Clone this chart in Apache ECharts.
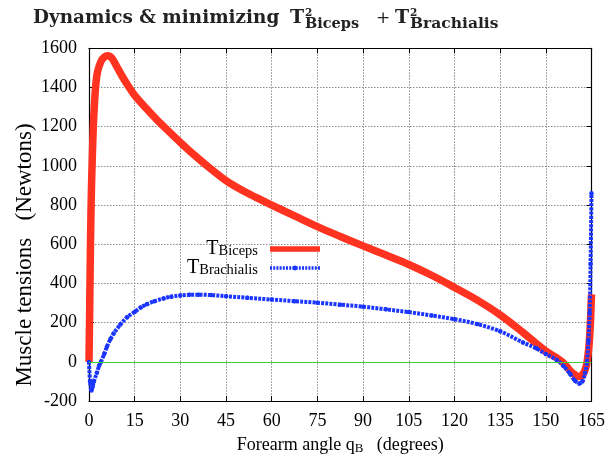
<!DOCTYPE html>
<html>
<head>
<meta charset="utf-8">
<script src="https://cdn.jsdelivr.net/npm/echarts@6/dist/echarts.min.js"></script>
<style>
html,body{margin:0;padding:0;background:#fff;}
#chart{width:616px;height:460px;}
</style>
</head>
<body>
<div id="chart"></div>
<script>
// Forearm angle (degrees) and tensions (Newtons)
const angBiceps = [0, 0.25, 0.5, 0.8, 1.1, 1.5, 2.1, 2.8, 4, 5, 6.2, 7.5, 9, 11, 13, 15, 19, 22, 25.6, 30, 35, 40, 45, 50, 55, 60, 67.5, 75, 82.5, 90, 97.5, 105, 112.5, 120, 127.5, 135, 142.5, 147, 150, 153.6, 155.8, 158, 159.5, 160.7, 161.8, 162.8, 163.5, 164, 164.4, 164.7, 165];
const tBiceps = [0, 300, 620, 880, 1050, 1230, 1390, 1480, 1535, 1555, 1562, 1550, 1510, 1455, 1405, 1360, 1290, 1240, 1185, 1120, 1050, 985, 925, 878, 838, 800, 745, 690, 640, 592, 545, 497, 442, 380, 315, 240, 150, 92, 55, 20, -5, -45, -65, -75, -70, -45, -5, 55, 130, 220, 345];
const angBrach = [0, 0.35, 0.8, 1.2, 1.6, 2.6, 3.3, 3.9, 5, 5.9, 7, 8.1, 10.3, 12.5, 15, 17, 19, 21.5, 24.5, 27, 30, 33, 36, 40, 45, 52, 60, 67.5, 75, 82.5, 90, 97.5, 105, 112.5, 120, 127.5, 135, 142.5, 147, 150, 153.6, 155.8, 158, 159.5, 161, 162, 162.9, 163.5, 164, 164.4, 164.7, 165];
const tBrach = [0, -100, -146, -125, -100, -55, -20, 0, 40, 78, 115, 145, 191, 228, 255, 278, 294, 310, 324, 333, 339, 342, 343, 341, 335, 327, 318, 310, 302, 292, 282, 268, 254, 237, 218, 193, 156, 99, 68, 40, 10, -21, -62, -95, -110, -100, -55, 0, 110, 250, 500, 860];
const xTicks = {min: 0, max: 165, step: 15};
const yTicks = {min: -200, max: 1600, step: 200};
const seriesNames = ['Biceps', 'Brachialis'];

const serif = 'Liberation Serif';
const zip = (a, b) => a.map((v, i) => [v, b[i]]);
const chart = echarts.init(document.getElementById('chart'), null, {renderer: 'canvas'});

const gridLine = {show: true, lineStyle: {color: '#8c8c8c', type: [1.5, 1.5], width: 1}};
const tick = {inside: true, length: 5, lineStyle: {color: '#000', width: 1}};
const axLine = {onZero: false, lineStyle: {color: '#000', width: 1.2}};
const tickLabel = {
  fontFamily: serif, fontSize: 18, color: '#000',
  formatter: v => '{n|' + v + '}',
  rich: {n: {fontFamily: serif, fontSize: 18, color: '#000'}}
};

chart.setOption({
  animation: false,
  backgroundColor: '#fff',
  textStyle: {fontFamily: serif, color: '#000'},
  title: {
    text: 'Dynamics & minimizing',
    left: 33, top: 9, padding: 0,
    textStyle: {fontFamily: 'DejaVu Serif', fontWeight: 'bold', fontSize: 18.4, color: '#222'}
  },
  grid: {left: 89, right: 24.5, top: 48.3, bottom: 51, containLabel: false},
  legend: {
    orient: 'vertical', align: 'right', left: 187, top: 239, padding: 0, itemGap: -1,
    itemWidth: 50, itemHeight: 6,
    data: [
      {name: seriesNames[0], itemStyle: {opacity: 0}, lineStyle: {width: 5.5}},
      {name: seriesNames[1], lineStyle: {width: 3.5, type: [2, 1.2]}}
    ],
    formatter: n => '{t|T}{s|' + n + '}',
    textStyle: {
      fontFamily: serif, color: '#000',
      rich: {
        t: {fontFamily: serif, fontSize: 20, lineHeight: 20, color: '#000'},
        s: {fontFamily: serif, fontSize: 14.5, lineHeight: 8, verticalAlign: 'bottom', color: '#000', padding: [0, 7, 0, 0]}
      }
    }
  },
  xAxis: [{
    type: 'value', position: 'bottom', min: xTicks.min, max: xTicks.max, interval: xTicks.step,
    axisLine: axLine, axisTick: tick, splitLine: gridLine,
    axisLabel: Object.assign({margin: 11}, tickLabel),
    name: 'Forearm angle q{s|B}   (degrees)', nameLocation: 'middle', nameGap: 27,
    nameTextStyle: {fontFamily: serif, fontSize: 18, lineHeight: 20, color: '#000',
      rich: {s: {fontFamily: serif, fontSize: 13, lineHeight: 8, verticalAlign: 'bottom', color: '#000'}}}
  }, {
    type: 'value', position: 'top', min: xTicks.min, max: xTicks.max, interval: xTicks.step,
    axisLine: axLine, axisTick: tick, splitLine: {show: false}, axisLabel: {show: false}
  }],
  yAxis: [{
    type: 'value', position: 'left', min: yTicks.min, max: yTicks.max, interval: yTicks.step,
    axisLine: axLine, axisTick: tick, splitLine: gridLine,
    axisLabel: Object.assign({margin: 12}, tickLabel)
  }, {
    type: 'value', position: 'right', min: yTicks.min, max: yTicks.max, interval: yTicks.step,
    axisLine: axLine, axisTick: tick, splitLine: {show: false}, axisLabel: {show: false}
  }],
  graphic: [
    {type: 'text', x: 290, y: 18.5, style: {text: 'T', font: 'bold 19px "DejaVu Serif"', fill: '#222', align: 'left', verticalAlign: 'middle'}},
    {type: 'text', x: 305, y: 13, style: {text: '2', font: 'bold 10.5px "DejaVu Serif"', fill: '#222', align: 'left', verticalAlign: 'middle'}},
    {type: 'text', x: 305, y: 24, style: {text: 'Biceps', font: 'bold 14.5px "DejaVu Serif"', fill: '#222', align: 'left', verticalAlign: 'middle'}},
    {type: 'text', x: 383, y: 18.5, style: {text: '+', font: '17px "DejaVu Serif"', fill: '#222', align: 'center', verticalAlign: 'middle'}},
    {type: 'text', x: 395, y: 18.5, style: {text: 'T', font: 'bold 19px "DejaVu Serif"', fill: '#222', align: 'left', verticalAlign: 'middle'}},
    {type: 'text', x: 410, y: 13, style: {text: '2', font: 'bold 10.5px "DejaVu Serif"', fill: '#222', align: 'left', verticalAlign: 'middle'}},
    {type: 'text', x: 410, y: 24, style: {text: 'Brachialis', font: 'bold 15.5px "DejaVu Serif"', fill: '#222', align: 'left', verticalAlign: 'middle'}},
    {type: 'text', x: 25, y: 255, rotation: Math.PI / 2,
      style: {text: 'Muscle tensions   (Newtons)', font: '23px "Liberation Serif"', fill: '#000', align: 'center', verticalAlign: 'middle'}}
  ],
  series: [{
    name: seriesNames[0], type: 'line', data: zip(angBiceps, tBiceps),
    smooth: 0.35, symbol: 'none', clip: true,
    lineStyle: {color: '#ff3320', width: 7.5, join: 'round'}, itemStyle: {color: '#ff3320'},
    markLine: {silent: true, symbol: 'none', label: {show: false},
      lineStyle: {color: '#3ccc3c', width: 1, type: 'solid'}, data: [{yAxis: 0}]},
    z: 3
  }, {
    name: seriesNames[1], type: 'line', data: zip(angBrach, tBrach),
    smooth: 0.35, symbol: 'circle', symbolSize: 4.5, showSymbol: true, clip: true,
    lineStyle: {color: '#1a35ff', width: 4, type: [3, 1.2]}, itemStyle: {color: '#1a35ff'},
    z: 4
  }]
});
</script>
</body>
</html>
